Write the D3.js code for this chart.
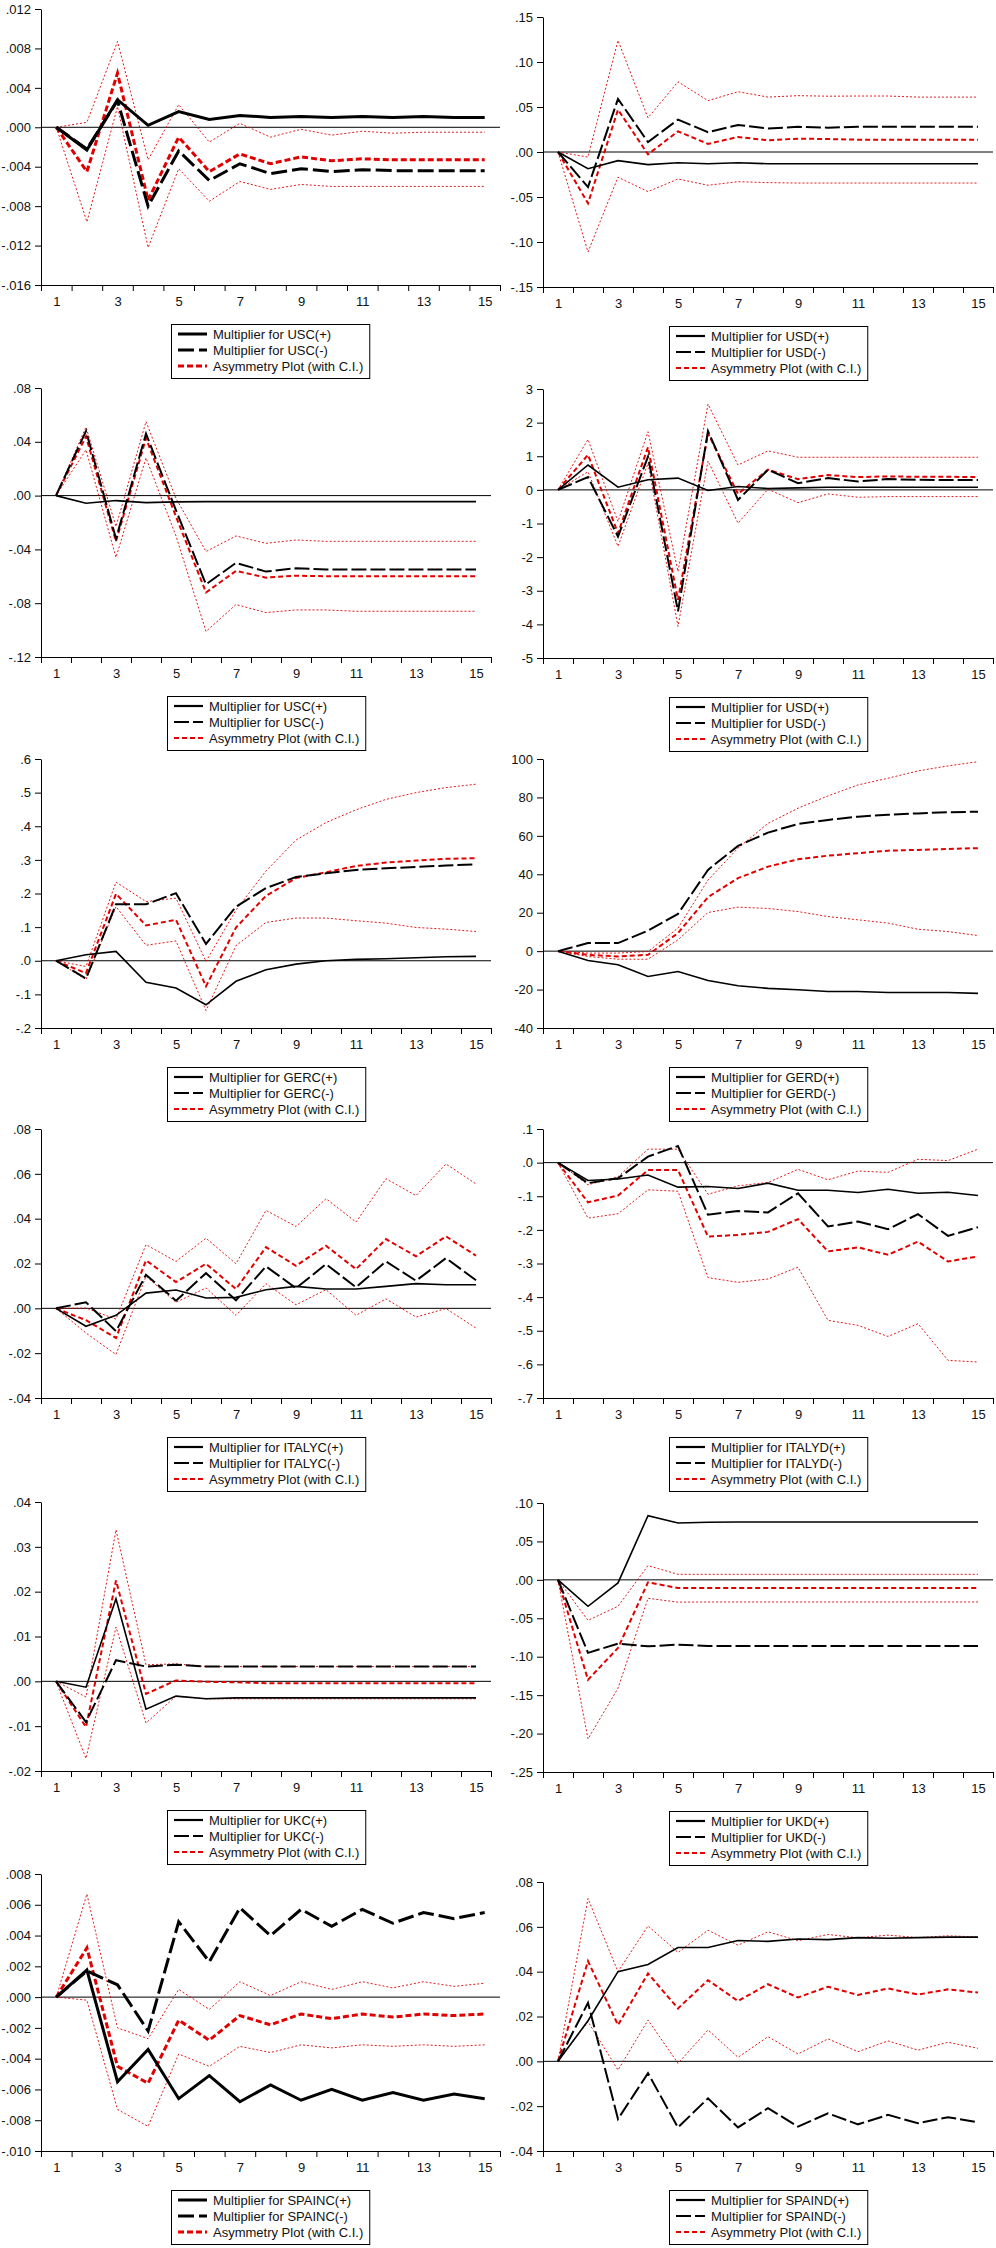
<!DOCTYPE html>
<html>
<head>
<meta charset="utf-8">
<script src="https://cdn.jsdelivr.net/npm/d3@7"></script>
<style>
  body { margin: 0; background: #fff; }
  svg { display: block; }
  text { font-family: "Liberation Sans", Arial, sans-serif; }
</style>
</head>
<body>
<svg id="canvas" width="996" height="2248"></svg>
<script>
const steps = d3.range(1, 16);

// USC (first block)
const usc1Pos = [0, -0.0023, 0.0028, 0.0002, 0.0016, 0.0008, 0.0012, 0.0010, 0.0011, 0.0010, 0.0011, 0.0010, 0.0011, 0.0010, 0.0010];
const usc1Neg = [0, -0.0022, 0.0027, -0.0080, -0.0024, -0.0054, -0.0037, -0.0047, -0.0042, -0.0045, -0.0043, -0.0044, -0.0044, -0.0044, -0.0044];
const usc1Asym = [0, -0.0045, 0.0055, -0.0074, -0.0010, -0.0045, -0.0027, -0.0037, -0.0030, -0.0034, -0.0032, -0.0033, -0.0033, -0.0033, -0.0033];
const usc1Up = [0, 0.0005, 0.0087, -0.0033, 0.0023, -0.0015, 0.0004, -0.0010, -0.0002, -0.0008, -0.0004, -0.0006, -0.0005, -0.0005, -0.0005];
const usc1Lo = [0, -0.0096, 0.0021, -0.0122, -0.0042, -0.0075, -0.0055, -0.0063, -0.0058, -0.0060, -0.0060, -0.0060, -0.0060, -0.0060, -0.0060];
const usc1Ticks = [-0.016, -0.012, -0.008, -0.004, 0, 0.004, 0.008, 0.012];

// USD (first block)
const usd1Pos = [0, -0.0185, -0.0096, -0.014, -0.012, -0.013, -0.012, -0.013, -0.013, -0.013, -0.013, -0.013, -0.013, -0.013, -0.013];
const usd1Neg = [0, -0.039, 0.059, 0.011, 0.036, 0.022, 0.030, 0.026, 0.028, 0.027, 0.028, 0.028, 0.028, 0.028, 0.028];
const usd1Asym = [0, -0.057, 0.047, -0.0026, 0.023, 0.009, 0.0167, 0.013, 0.0148, 0.0144, 0.0137, 0.0137, 0.0137, 0.0137, 0.0137];
const usd1Up = [0, -0.0056, 0.124, 0.038, 0.078, 0.057, 0.067, 0.061, 0.0626, 0.062, 0.0622, 0.0622, 0.061, 0.061, 0.061];
const usd1Lo = [0, -0.111, -0.028, -0.044, -0.030, -0.037, -0.033, -0.034, -0.0345, -0.0345, -0.0345, -0.0345, -0.0345, -0.0345, -0.0345];
const usd1Ticks = [-0.15, -0.10, -0.05, 0, 0.05, 0.10, 0.15];

// USC (second block)
const usc2Pos = [0, -0.0057, -0.0037, -0.0052, -0.0047, -0.0045, -0.0045, -0.0045, -0.0045, -0.0045, -0.0045, -0.0045, -0.0045, -0.0045, -0.0045];
const usc2Neg = [0, 0.048, -0.032, 0.046, -0.011, -0.066, -0.050, -0.0565, -0.054, -0.055, -0.055, -0.055, -0.055, -0.055, -0.055];
const usc2Asym = [0, 0.044, -0.034, 0.0426, -0.0156, -0.072, -0.056, -0.061, -0.0595, -0.060, -0.060, -0.060, -0.060, -0.060, -0.060];
const usc2Up = [0, 0.051, -0.023, 0.055, -0.002, -0.0416, -0.030, -0.0355, -0.033, -0.034, -0.034, -0.034, -0.034, -0.034, -0.034];
const usc2Lo = [0, 0.034, -0.046, 0.028, -0.030, -0.101, -0.081, -0.087, -0.085, -0.085, -0.086, -0.086, -0.086, -0.086, -0.086];
const usc2Ticks = [-0.12, -0.08, -0.04, 0, 0.04, 0.08];

// USD (second block)
const usd2Pos = [0, 0.74, 0.08, 0.30, 0.35, -0.02, 0.10, 0.04, 0.06, 0.08, 0.08, 0.08, 0.08, 0.08, 0.08];
const usd2Neg = [0, 0.38, -1.39, 0.99, -3.61, 1.75, -0.30, 0.60, 0.20, 0.35, 0.25, 0.32, 0.30, 0.29, 0.29];
const usd2Asym = [0, 1.04, -1.29, 1.27, -3.27, 1.68, -0.12, 0.60, 0.32, 0.44, 0.38, 0.40, 0.39, 0.39, 0.38];
const usd2Up = [0, 1.50, -0.94, 1.73, -2.43, 2.55, 0.74, 1.16, 0.97, 0.97, 0.97, 0.97, 0.97, 0.97, 0.97];
const usd2Lo = [0, 0.54, -1.68, 0.79, -4.06, 0.86, -0.99, 0.02, -0.38, -0.12, -0.22, -0.20, -0.20, -0.20, -0.20];
const usd2Ticks = [-5, -4, -3, -2, -1, 0, 1, 2, 3];

// GERC
const gercPos = [0, 0.018, 0.028, -0.064, -0.081, -0.131, -0.061, -0.027, -0.010, 0.000, 0.004, 0.006, 0.009, 0.012, 0.013];
const gercNeg = [0, -0.053, 0.168, 0.168, 0.201, 0.050, 0.161, 0.216, 0.249, 0.260, 0.270, 0.275, 0.279, 0.283, 0.287];
const gercAsym = [0, -0.037, 0.199, 0.105, 0.122, -0.076, 0.099, 0.193, 0.246, 0.263, 0.282, 0.292, 0.298, 0.303, 0.305];
const gercUp = [0, -0.017, 0.234, 0.176, 0.186, -0.002, 0.151, 0.267, 0.359, 0.411, 0.449, 0.480, 0.500, 0.515, 0.525];
const gercLo = [0, -0.056, 0.161, 0.046, 0.059, -0.148, 0.045, 0.114, 0.127, 0.127, 0.119, 0.112, 0.099, 0.094, 0.087];
const gercTicks = [-0.2, -0.1, 0, 0.1, 0.2, 0.3, 0.4, 0.5, 0.6];

// GERD
const gerdPos = [0, -4.9, -7.1, -13.2, -10.6, -15.3, -18.0, -19.4, -20.1, -21.0, -21.0, -21.5, -21.5, -21.5, -22.0];
const gerdNeg = [0, 4.2, 4.2, 10.7, 19.4, 42.3, 54.8, 61.7, 66.2, 68.3, 70.0, 71.0, 71.7, 72.3, 72.6];
const gerdAsym = [0, -1.9, -2.8, -1.9, 9.4, 28.1, 38.0, 44.0, 47.8, 49.7, 51.0, 52.3, 52.7, 53.2, 53.6];
const gerdUp = [0, -1.0, -1.0, -0.2, 12.0, 37.0, 53.6, 66.5, 74.4, 80.8, 86.5, 90.0, 93.8, 96.4, 98.6];
const gerdLo = [0, -2.8, -4.2, -4.2, 5.9, 20.1, 22.9, 22.2, 20.6, 18.0, 16.3, 14.6, 11.4, 10.2, 8.1];
const gerdTicks = [-40, -20, 0, 20, 40, 60, 80, 100];

// ITALYC
const italycPos = [0, -0.0080, -0.0031, 0.0068, 0.0082, 0.0046, 0.0049, 0.0083, 0.0098, 0.0086, 0.0086, 0.0098, 0.0110, 0.0105, 0.0105];
const italycNeg = [0, 0.0027, -0.0102, 0.0150, 0.0034, 0.0157, 0.0036, 0.0187, 0.0090, 0.0197, 0.0094, 0.0209, 0.0123, 0.0224, 0.0125];
const italycAsym = [0, -0.0053, -0.0132, 0.0214, 0.0117, 0.0199, 0.0086, 0.0273, 0.0190, 0.0279, 0.0175, 0.0309, 0.0232, 0.0321, 0.0235];
const italycUp = [0, 0.0001, -0.0048, 0.0284, 0.0209, 0.0313, 0.0199, 0.0437, 0.0365, 0.0489, 0.0385, 0.0578, 0.0503, 0.0644, 0.0555];
const italycLo = [0, -0.0110, -0.0206, 0.0143, 0.0027, 0.0091, -0.0031, 0.0110, 0.0016, 0.0083, -0.0031, 0.0042, -0.0039, -0.0001, -0.0088];
const italycTicks = [-0.04, -0.02, 0, 0.02, 0.04, 0.06, 0.08];

// ITALYD
const italydPos = [0, -0.053, -0.0485, -0.037, -0.073, -0.071, -0.077, -0.061, -0.082, -0.082, -0.089, -0.079, -0.091, -0.088, -0.098];
const italydNeg = [0, -0.061, -0.0465, 0.018, 0.0495, -0.155, -0.144, -0.148, -0.091, -0.190, -0.175, -0.198, -0.153, -0.218, -0.192];
const italydAsym = [0, -0.118, -0.098, -0.022, -0.022, -0.220, -0.215, -0.206, -0.168, -0.264, -0.252, -0.274, -0.235, -0.294, -0.279];
const italydUp = [0, -0.066, -0.042, 0.040, 0.040, -0.094, -0.069, -0.059, -0.020, -0.051, -0.025, -0.029, 0.010, 0.006, 0.040];
const italydLo = [0, -0.165, -0.152, -0.081, -0.085, -0.342, -0.356, -0.346, -0.311, -0.469, -0.484, -0.517, -0.479, -0.588, -0.593];
const italydTicks = [-0.7, -0.6, -0.5, -0.4, -0.3, -0.2, -0.1, 0, 0.1];

// UKC
const ukcPos = [0, -0.0013, 0.0184, -0.0062, -0.0033, -0.0039, -0.0037, -0.0037, -0.0037, -0.0037, -0.0037, -0.0037, -0.0037, -0.0037, -0.0037];
const ukcNeg = [0, -0.0091, 0.0047, 0.0033, 0.0037, 0.0033, 0.0033, 0.0033, 0.0033, 0.0033, 0.0033, 0.0033, 0.0033, 0.0033, 0.0033];
const ukcAsym = [0, -0.0102, 0.0225, -0.0028, 0.0002, -0.0001, -0.0002, -0.0004, -0.0004, -0.0004, -0.0004, -0.0004, -0.0004, -0.0004, -0.0004];
const ukcUp = [0, -0.0035, 0.0338, 0.0037, 0.0039, 0.0033, 0.0033, 0.0033, 0.0033, 0.0033, 0.0033, 0.0033, 0.0033, 0.0033, 0.0033];
const ukcLo = [0, -0.0172, 0.0121, -0.0093, -0.0033, -0.0039, -0.0039, -0.0039, -0.0039, -0.0039, -0.0039, -0.0039, -0.0039, -0.0039, -0.0039];
const ukcTicks = [-0.02, -0.01, 0, 0.01, 0.02, 0.03, 0.04];

// UKD
const ukdPos = [0, -0.0344, -0.0040, 0.0835, 0.0740, 0.0749, 0.0753, 0.0753, 0.0753, 0.0753, 0.0753, 0.0753, 0.0753, 0.0753, 0.0753];
const ukdNeg = [0, -0.0950, -0.0830, -0.0865, -0.0843, -0.0860, -0.0860, -0.0860, -0.0860, -0.0860, -0.0860, -0.0860, -0.0860, -0.0860, -0.0860];
const ukdAsym = [0, -0.1300, -0.0886, -0.0032, -0.0106, -0.0106, -0.0106, -0.0106, -0.0106, -0.0106, -0.0106, -0.0106, -0.0106, -0.0106, -0.0106];
const ukdUp = [0, -0.0527, -0.0344, 0.0185, 0.0072, 0.0072, 0.0072, 0.0072, 0.0072, 0.0072, 0.0072, 0.0072, 0.0072, 0.0072, 0.0072];
const ukdLo = [0, -0.2070, -0.1410, -0.0240, -0.0290, -0.0288, -0.0288, -0.0288, -0.0288, -0.0288, -0.0288, -0.0288, -0.0288, -0.0288, -0.0288];
const ukdTicks = [-0.25, -0.20, -0.15, -0.10, -0.05, 0, 0.05, 0.10];

// SPAINC
const spaincPos = [0, 0.00176, -0.0055, -0.0034, -0.0066, -0.0051, -0.0068, -0.0057, -0.0067, -0.0060, -0.0067, -0.0062, -0.0067, -0.0063, -0.0066];
const spaincNeg = [0, 0.0017, 0.0008, -0.0022, 0.0049, 0.0023, 0.0058, 0.0040, 0.0057, 0.0046, 0.0057, 0.0048, 0.0055, 0.0051, 0.0055];
const spaincAsym = [0, 0.0032, -0.0045, -0.0056, -0.0015, -0.0028, -0.0012, -0.0018, -0.0011, -0.0014, -0.0011, -0.0013, -0.0011, -0.0012, -0.0011];
const spaincUp = [0, 0.0067, -0.0020, -0.0027, 0.0005, -0.0008, 0.0010, 0.0001, 0.0010, 0.0005, 0.0010, 0.0006, 0.0010, 0.0007, 0.0009];
const spaincLo = [0, -0.0002, -0.0073, -0.0084, -0.0037, -0.0045, -0.0032, -0.0036, -0.0031, -0.0033, -0.0031, -0.0032, -0.0031, -0.0032, -0.0031];
const spaincTicks = [-0.010, -0.008, -0.006, -0.004, -0.002, 0, 0.002, 0.004, 0.006, 0.008];

// SPAIND
const spaindPos = [0, 0.0181, 0.0400, 0.0432, 0.0508, 0.0508, 0.0539, 0.0535, 0.0546, 0.0543, 0.0552, 0.0549, 0.0552, 0.0554, 0.0554];
const spaindNeg = [0, 0.0261, -0.0257, -0.0053, -0.0295, -0.0165, -0.0295, -0.0209, -0.0291, -0.0232, -0.0281, -0.0239, -0.0276, -0.0249, -0.0272];
const spaindAsym = [0, 0.0447, 0.0162, 0.0392, 0.0236, 0.0362, 0.0269, 0.0344, 0.0285, 0.0333, 0.0296, 0.0325, 0.0298, 0.0321, 0.0307];
const spaindUp = [0, 0.0726, 0.0400, 0.0604, 0.0486, 0.0585, 0.0518, 0.0578, 0.0538, 0.0566, 0.0551, 0.0563, 0.0552, 0.0560, 0.0555];
const spaindLo = [0, 0.0177, -0.0039, 0.0184, -0.0009, 0.0140, 0.0018, 0.0110, 0.0033, 0.0100, 0.0043, 0.0091, 0.0050, 0.0085, 0.0058];
const spaindTicks = [-0.04, -0.02, 0, 0.02, 0.04, 0.06, 0.08];

const asymLabel = "Asymmetry Plot (with C.I.)";
const xLabels = [1, 3, 5, 7, 9, 11, 13, 15];

// layout per panel (col 0 = left, 1 = right)
const panels = [
  { name: "USC", pos: usc1Pos, neg: usc1Neg, asym: usc1Asym, up: usc1Up, lo: usc1Lo, ticks: usc1Ticks, dec: 3, col: 0, top: 9, bottom: 285, thick: true },
  { name: "USD", pos: usd1Pos, neg: usd1Neg, asym: usd1Asym, up: usd1Up, lo: usd1Lo, ticks: usd1Ticks, dec: 2, col: 1, top: 17, bottom: 287 },
  { name: "USC", pos: usc2Pos, neg: usc2Neg, asym: usc2Asym, up: usc2Up, lo: usc2Lo, ticks: usc2Ticks, dec: 2, col: 0, top: 388, bottom: 657 },
  { name: "USD", pos: usd2Pos, neg: usd2Neg, asym: usd2Asym, up: usd2Up, lo: usd2Lo, ticks: usd2Ticks, dec: 0, col: 1, top: 389, bottom: 658 },
  { name: "GERC", pos: gercPos, neg: gercNeg, asym: gercAsym, up: gercUp, lo: gercLo, ticks: gercTicks, dec: 1, col: 0, top: 759, bottom: 1028 },
  { name: "GERD", pos: gerdPos, neg: gerdNeg, asym: gerdAsym, up: gerdUp, lo: gerdLo, ticks: gerdTicks, dec: 0, col: 1, top: 759, bottom: 1028 },
  { name: "ITALYC", pos: italycPos, neg: italycNeg, asym: italycAsym, up: italycUp, lo: italycLo, ticks: italycTicks, dec: 2, col: 0, top: 1129, bottom: 1398 },
  { name: "ITALYD", pos: italydPos, neg: italydNeg, asym: italydAsym, up: italydUp, lo: italydLo, ticks: italydTicks, dec: 1, col: 1, top: 1129, bottom: 1398 },
  { name: "UKC", pos: ukcPos, neg: ukcNeg, asym: ukcAsym, up: ukcUp, lo: ukcLo, ticks: ukcTicks, dec: 2, col: 0, top: 1502, bottom: 1771 },
  { name: "UKD", pos: ukdPos, neg: ukdNeg, asym: ukdAsym, up: ukdUp, lo: ukdLo, ticks: ukdTicks, dec: 2, col: 1, top: 1503, bottom: 1772 },
  { name: "SPAINC", pos: spaincPos, neg: spaincNeg, asym: spaincAsym, up: spaincUp, lo: spaincLo, ticks: spaincTicks, dec: 3, col: 0, top: 1874, bottom: 2151, thick: true },
  { name: "SPAIND", pos: spaindPos, neg: spaindNeg, asym: spaindAsym, up: spaindUp, lo: spaindLo, ticks: spaindTicks, dec: 2, col: 1, top: 1882, bottom: 2151 }
];

const red = "#e00000";
const canvas = d3.select("#canvas");

// EViews style: plain hyphen, no leading zero
const fmtTick = (dec) => (v) => {
  const s = d3.format(`.${dec}f`)(v).replace("\u2212", "-");
  return dec === 0 ? s : s.replace(/^(-?)0\./, "$1.");
};

const drawPanel = (p) => {
  const x0 = p.col === 0 ? 41 : 543;
  const x1 = p.col === 0 ? (p.thick ? 500 : 491) : 993;
  const g = canvas.append("g");

  const x = d3.scaleLinear().domain([0.5, 15.5]).range([x0, x1]);
  const y = d3.scaleLinear().domain(d3.extent(p.ticks)).range([p.bottom, p.top]);

  const wSolid = p.thick ? 3 : 1.6;
  const wDash = p.thick ? 3 : 2;
  const wAsym = p.thick ? 3 : 2;
  const styles = {
    pos: { stroke: "#000", width: wSolid, dash: null },
    neg: { stroke: "#000", width: wDash, dash: p.thick ? "16,5" : "15,4" },
    asym: { stroke: red, width: wAsym, dash: p.thick ? "6,3" : "5,3" },
    ci: { stroke: red, width: 0.9, dash: "2,2" }
  };

  // y axis
  g.append("g")
    .attr("transform", `translate(${x0},0)`)
    .call(d3.axisLeft(y).tickValues(p.ticks).tickFormat(fmtTick(p.dec)).tickSize(6).tickSizeOuter(0).tickPadding(4))
    .call((a) => a.selectAll("text").attr("font-size", 13).attr("fill", "#111"));

  // x axis: ticks on period boundaries, labels on odd periods
  g.append("g")
    .attr("transform", `translate(0,${p.bottom})`)
    .call(d3.axisBottom(x).tickValues(d3.range(0.5, 16, 1)).tickFormat("").tickSize(6).tickSizeOuter(0));
  g.append("g")
    .attr("transform", `translate(0,${p.bottom})`)
    .call(d3.axisBottom(x).tickValues(xLabels).tickFormat(d3.format("d")).tickSize(0).tickPadding(12))
    .call((a) => a.select(".domain").remove())
    .call((a) => a.selectAll("text").attr("font-size", 13).attr("fill", "#111"));

  g.selectAll(".domain").attr("stroke", "#000");

  // zero line
  g.append("line")
    .attr("x1", x0).attr("x2", x1)
    .attr("y1", y(0)).attr("y2", y(0))
    .attr("stroke", "#000").attr("stroke-width", 1);

  const line = d3.line().x((d, i) => x(steps[i])).y((d) => y(d));
  const series = [
    [p.up, styles.ci],
    [p.lo, styles.ci],
    [p.asym, styles.asym],
    [p.neg, styles.neg],
    [p.pos, styles.pos]
  ];
  series.forEach(([vals, st]) => {
    g.append("path")
      .datum(vals)
      .attr("d", line)
      .attr("fill", "none")
      .attr("stroke", st.stroke)
      .attr("stroke-width", st.width)
      .attr("stroke-dasharray", st.dash)
      .attr("stroke-linejoin", "miter");
  });

  // legend
  const items = [
    [`Multiplier for ${p.name}(+)`, styles.pos],
    [`Multiplier for ${p.name}(-)`, styles.neg],
    [asymLabel, styles.asym]
  ];
  const lg = g.append("g");
  let maxW = 0;
  items.forEach(([label, st], i) => {
    const cy = 10 + i * 16;
    lg.append("line")
      .attr("x1", 7).attr("x2", 36)
      .attr("y1", cy).attr("y2", cy)
      .attr("stroke", st.stroke)
      .attr("stroke-width", p.thick ? 3 : 2.2)
      .attr("stroke-dasharray", st.dash);
    const t = lg.append("text")
      .attr("x", 42).attr("y", cy)
      .attr("dy", "0.35em")
      .attr("font-size", 13)
      .attr("fill", "#111")
      .text(label);
    maxW = Math.max(maxW, t.node().getComputedTextLength());
  });
  const boxW = 42 + maxW + 6;
  lg.insert("rect", ":first-child")
    .attr("x", 0.5).attr("y", 0.5)
    .attr("width", boxW).attr("height", 54)
    .attr("fill", "#fff").attr("stroke", "#000").attr("stroke-width", 1);
  const cx = (x0 + x1) / 2;
  lg.attr("transform", `translate(${Math.round(cx - boxW / 2)},${p.bottom + 39})`);
};

panels.forEach(drawPanel);
</script>
</body>
</html>
